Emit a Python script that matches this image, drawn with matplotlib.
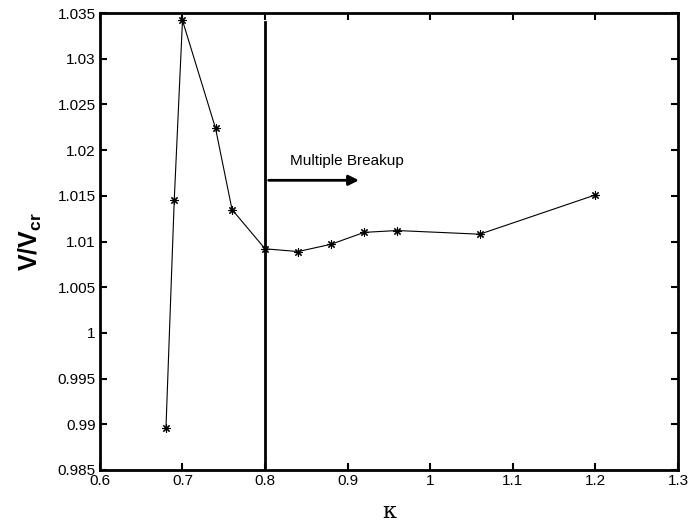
import matplotlib
matplotlib.use("Agg")
import matplotlib.pyplot as plt

kappa = [0.68, 0.69, 0.70, 0.74, 0.76, 0.80, 0.84, 0.88, 0.92, 0.96, 1.06, 1.20]
v_ratio = [0.9896, 1.0145, 1.0342, 1.0224, 1.0135, 1.0092, 1.0089, 1.0097, 1.0110, 1.0112, 1.0108, 1.0151]
xticks = [0.6, 0.7, 0.8, 0.9, 1.0, 1.1, 1.2, 1.3]
xticklabels = ["0.6", "0.7", "0.8", "0.9", "1", "1.1", "1.2", "1.3"]
yticks = [0.985, 0.99, 0.995, 1.0, 1.005, 1.01, 1.015, 1.02, 1.025, 1.03, 1.035]
yticklabels = ["0.985", "0.99", "0.995", "1", "1.005", "1.01", "1.015", "1.02", "1.025", "1.03", "1.035"]

plt.rcParams['font.family'] = ['Liberation Sans', 'DejaVu Sans']
plt.rcParams['mathtext.fontset'] = 'custom'
plt.rcParams['mathtext.rm'] = 'Liberation Sans'
plt.rcParams['mathtext.bf'] = 'Liberation Sans:bold'
fig = plt.figure(figsize=(6.89, 5.25), dpi=100)
ax = fig.add_axes([0.145, 0.105, 0.839, 0.870])
ax.plot(kappa, v_ratio, color='black', linewidth=0.8, marker=(8, 2, 0), markersize=6,
        markerfacecolor='black', markeredgecolor='black', markeredgewidth=0.8)
ax.plot([0.8, 0.8], [0.985, 1.034], color='black', linewidth=2)
ax.annotate("", xy=(0.917, 1.0167), xytext=(0.801, 1.0167),
            arrowprops=dict(arrowstyle='-|>', color='black', lw=2, mutation_scale=15))
ax.text(0.83, 1.0188, "Multiple Breakup", fontsize=11, ha='left', va='center')
ax.set_xlim(0.6, 1.3)
ax.set_ylim(0.985, 1.035)
ax.set_xticks(xticks)
ax.set_xticklabels(xticklabels)
ax.set_yticks(yticks)
ax.set_yticklabels(yticklabels)
ax.tick_params(direction='in', length=5, width=1.5, labelsize=11, pad=3,
               top=True, right=True)
for s in ax.spines.values():
    s.set_linewidth(2)
ax.set_xlabel("κ", fontsize=16, family='DejaVu Serif', labelpad=9)
ax.set_ylabel(r"$\mathbf{V/V_{cr}}$", fontsize=18, labelpad=10)
fig.savefig("out.png", dpi=100)
